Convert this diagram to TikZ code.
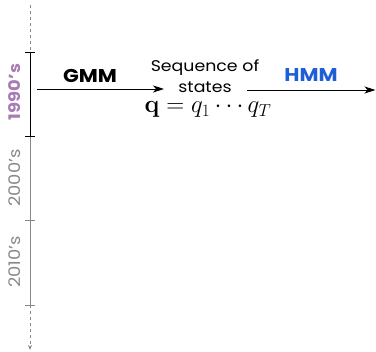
\documentclass[tikz,border=0pt]{standalone}
\usepackage[no-math]{fontspec}
\setmainfont[FakeStretch=1.12]{Poppins}
\usepackage{amsmath}
\usetikzlibrary{arrows.meta}
\definecolor{tlgray}{HTML}{888888}
\definecolor{decpurple}{HTML}{A77BB5}
\definecolor{hmmblue}{HTML}{1F5FD6}
\tikzset{
  tick/.style={line width=0.9pt},
  decade/.style={rotate=90, font=\fontsize{16}{18}\selectfont, text=tlgray},
  flow/.style={line width=0.8pt, -{Stealth[length=11pt,width=7pt,inset=3pt]}},
  method/.style={font=\fontsize{18.5}{20}\selectfont\bfseries}
}
\begin{document}
\begin{tikzpicture}[x=1pt,y=1pt]
\useasboundingbox (0,0) rectangle (376,-352);
% timeline points
\coordinate (t0) at (30,-5);
\coordinate (t1) at (30,-52);
\coordinate (t2) at (30,-136);
\coordinate (t3) at (30,-220);
\coordinate (t4) at (30,-305);
\coordinate (t5) at (30,-350);
\draw[tlgray, dashed, line width=0.8pt] (t0) -- (t1);
\draw[black, line width=0.9pt] (t1) -- (t2);
\draw[tlgray, line width=0.9pt] (t2) -- (t4);
\draw[tlgray, dashed, line width=0.8pt, -{Stealth[length=5pt,width=4pt]}] (t4) -- (t5);
\draw[tick, black] ([xshift=-5pt]t1) -- ([xshift=5pt]t1);
\draw[tick, black] ([xshift=-5pt]t2) -- ([xshift=5pt]t2);
\draw[tick, tlgray] ([xshift=-5pt]t3) -- ([xshift=5pt]t3);
\draw[tick, tlgray] ([xshift=-5pt]t4) -- ([xshift=5pt]t4);
% decade labels
\node[decade, text=decpurple, font=\fontsize{16}{18}\selectfont\bfseries] (d90) at (15,-92) {1990's};
\node[decade] (d00) at (15,-178) {2000's};
\node[decade] (d10) at (15,-262) {2010's};
% arrows and labels
\coordinate (a0) at (37,-89);
\coordinate (a1) at (164,-89);
\coordinate (b0) at (247,-90);
\coordinate (b1) at (375.5,-90);
\draw[flow] (a0) -- (a1);
\draw[flow] (b0) -- (b1);
\node[method, inner sep=0pt] (gmm) at (90,-76) {GMM};
\node[method, text=hmmblue, inner sep=0pt] (hmm) at (311,-75) {HMM};
\node[align=center, font=\fontsize{15.5}{21}\selectfont, inner sep=0pt] (seq) at (205,-76.5) {Sequence of\\states};
\node[font=\fontsize{23.5}{26}\selectfont, inner sep=0pt] (q) at (208,-109.5) {$\mathbf{q} = q_1 \cdots q_T$};
\end{tikzpicture}
\end{document}
